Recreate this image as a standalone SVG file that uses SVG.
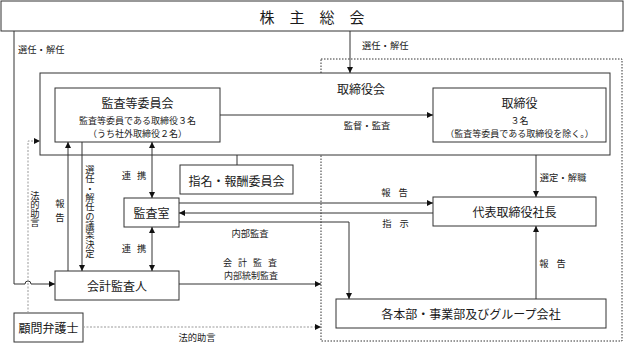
<svg xmlns="http://www.w3.org/2000/svg" width="624" height="343" viewBox="0 0 624 343">
<style>
text{font-family:"Noto Sans CJK JP","Liberation Sans",sans-serif;fill:#1a1a1a;dominant-baseline:central}
.box{fill:#fff;stroke:#333;stroke-width:1}
.t{font-size:12px;text-anchor:middle}
.s{font-size:9.3px}
.x{font-size:9px}
.c{text-anchor:middle}
.v{writing-mode:vertical-rl;text-anchor:middle;font-size:9.3px}
.ln{fill:none;stroke:#333;stroke-width:1}
.ar{marker-end:url(#a)}
.dbl{marker-end:url(#a);marker-start:url(#a)}
.dash{fill:none;stroke:#999;stroke-width:1;stroke-dasharray:2 1.5;marker-end:url(#a)}
</style>
<defs>
<marker id="a" viewBox="0 0 6 6" refX="6" refY="3" markerWidth="6" markerHeight="6" orient="auto-start-reverse" markerUnits="userSpaceOnUse"><path d="M0,0L6,3L0,6z" fill="#111"/></marker>
</defs>
<rect x="0" y="0" width="624" height="343" fill="#fff"/>
<rect x="321" y="59" width="301" height="282" fill="none" stroke="#333" stroke-width="1" stroke-dasharray="1.5 1.5"/>
<g id="kabunushi"><rect class="box" x="1" y="1" width="622" height="30"/><text x="312" y="16" style="font-size:15px;text-anchor:middle">株　主　総　会</text></g>
<g id="torishimariyakukai"><rect class="box" x="40" y="73" width="570" height="82"/><text x="337" y="88" style="font-size:12px">取締役会</text></g>
<g id="kansatou"><rect class="box" x="55" y="88" width="165" height="54"/><text class="t" x="137.5" y="102">監査等委員会</text><text class="x c" x="137.5" y="120">監査等委員である取締役３名</text><text class="x c" x="137.5" y="133.5">（うち社外取締役２名）</text></g>
<g id="torishimariyaku"><rect class="box" x="433" y="88" width="173" height="54"/><text class="t" x="519.5" y="102">取締役</text><text class="x c" x="519.5" y="120">３名</text><text class="x c" x="519.5" y="133.5">（監査等委員である取締役を除く。）</text></g>
<g id="shimei"><rect class="box" x="180" y="165" width="113" height="29"/><text class="t" x="236.5" y="180">指名・報酬委員会</text></g>
<g id="kansashitsu"><rect class="box" x="124" y="198" width="55" height="29"/><text class="t" x="151.5" y="212.5">監査室</text></g>
<g id="daihyo"><rect class="box" x="433" y="197" width="163" height="29"/><text class="t" x="514.5" y="211.5">代表取締役社長</text></g>
<g id="kaikei"><rect class="box" x="55" y="271" width="124" height="29"/><text class="t" x="117" y="285.5">会計監査人</text></g>
<g id="komon"><rect class="box" x="14" y="313" width="69" height="29"/><text class="t" x="48.5" y="327.5">顧問弁護士</text></g>
<g id="kakuhonbu"><rect class="box" x="336" y="299" width="270" height="29"/><text class="t" x="471" y="313.5">各本部・事業部及びグループ会社</text></g>
<g id="connectors">
<path class="ln ar" d="M14,31V284H25A3,3 0 0 1 31,284H55"/>
<path class="ln ar" d="M350,31V73"/>
<path class="ln ar" d="M220,115H433"/>
<path class="ln" d="M237,155V165"/>
<path class="ln dbl" d="M152,142V198"/>
<path class="ln dbl" d="M152,227V271"/>
<path class="ln ar" d="M68,271V142"/>
<path class="ln ar" d="M82,142V271"/>
<path class="dash" d="M28,313V141H40"/>
<path class="ln ar" d="M536,155V197"/>
<path class="ln ar" d="M179,203H433"/>
<path class="ln ar" d="M433,213H179"/>
<path class="ln ar" d="M179,222H349V299"/>
<path class="ln ar" d="M536,299V226"/>
<path class="ln ar" d="M179,284H321"/>
<path class="dash" d="M83,327H321"/>
</g>
<g id="labels">
<text class="s" x="18" y="49">選任・解任</text>
<text class="s" x="362" y="45">選任・解任</text>
<text class="s c" x="367" y="125">監督・監査</text>
<text class="s c" x="135" y="175" style="letter-spacing:2px">連 携</text>
<text class="s c" x="135" y="248" style="letter-spacing:2px">連 携</text>
<text class="v" x="35" y="209">法的助言</text>
<text class="v" x="60" y="213" style="letter-spacing:5px">報告</text>
<text class="v" x="90" y="211.5">選任・解任の議案決定</text>
<text class="s c" x="396" y="192" style="letter-spacing:3px">報 告</text>
<text class="s c" x="397" y="223" style="letter-spacing:3px">指 示</text>
<text class="s c" x="250" y="233">内部監査</text>
<text class="x c" x="251" y="262" style="letter-spacing:2px">会 計 監 査</text>
<text class="x c" x="251" y="275.5">内部統制監査</text>
<text class="s c" x="197" y="337">法的助言</text>
<text class="s c" x="563" y="177">選定・解職</text>
<text class="s c" x="554" y="263" style="letter-spacing:3px">報 告</text>
</g>
</svg>
